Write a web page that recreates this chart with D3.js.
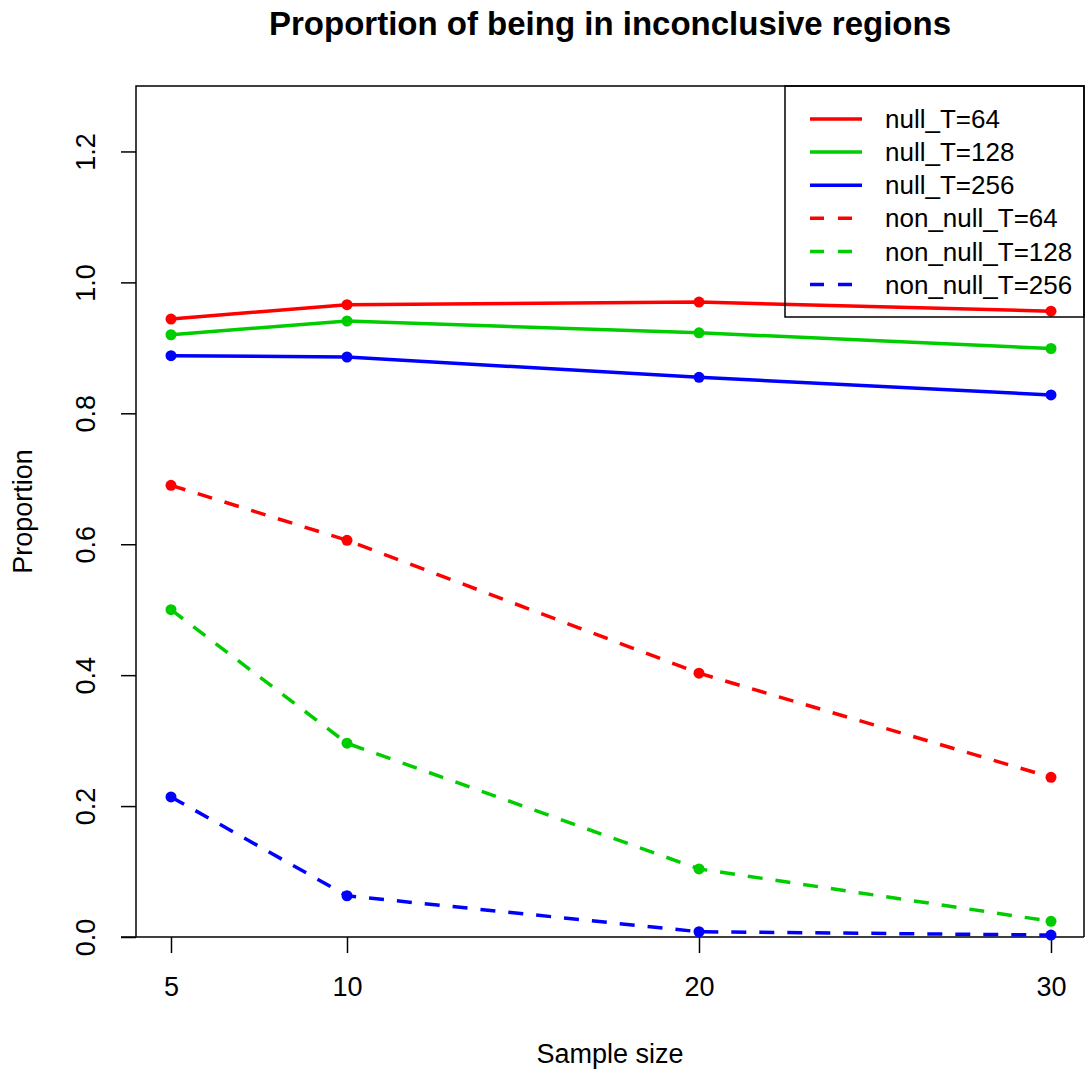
<html>
    <head>
        <meta charset="utf-8">
        <title>Proportion of being in inconclusive regions</title>
        <style>
          body { margin: 0; background: #fff; }
          svg text { font-family: "Liberation Sans", Arial, sans-serif; fill: #000; }
        </style>
    </head>
    <body>
        <div id="d3-content"></div>

        <script src="https://d3js.org/d3.v7.min.js"></script>
        <script>
            // donnees
            let sampleSizes = [5, 10, 20, 30];
            let nullT64  = [0.944, 0.966, 0.970, 0.956];
            let nullT128 = [0.920, 0.941, 0.923, 0.899];
            let nullT256 = [0.888, 0.886, 0.855, 0.828];
            let nonNullT64  = [0.690, 0.606, 0.403, 0.244];
            let nonNullT128 = [0.500, 0.296, 0.104, 0.024];
            let nonNullT256 = [0.214, 0.063, 0.008, 0.003];
            let yTicks = [0, 0.2, 0.4, 0.6, 0.8, 1.0, 1.2];
            let xTicks = [5, 10, 20, 30];

            let seriesNames = ["null_T=64", "null_T=128", "null_T=256",
                               "non_null_T=64", "non_null_T=128", "non_null_T=256"];
            let seriesValues = [nullT64, nullT128, nullT256, nonNullT64, nonNullT128, nonNullT256];
            let colors = ["#ff0000", "#00cd00", "#0000ff", "#ff0000", "#00cd00", "#0000ff"];
            let dashed = [false, false, false, true, true, true];

            let w = 1085, h = 1071;
            let pLeft = 136, pRight = 1084, pTop = 86, pBottom = 937;

            let svg = d3.select("#d3-content").append("svg")
                .attr("width", w)
                .attr("height", h);

            let xScale = d3.scaleLinear().domain([5, 30]).range([171, 1051]);
            let yScale = d3.scaleLinear().domain([0, 1.3]).range([pBottom, pTop]);

            // les axes
            let xAxis = d3.axisBottom(xScale).tickValues(xTicks).tickSize(16).tickPadding(24)
                .tickFormat(d3.format("d"));
            let yAxis = d3.axisLeft(yScale).tickValues(yTicks).tickSize(15).tickPadding(8)
                .tickFormat(d3.format(".1f"));

            let gx = svg.append("g")
                .attr("transform", "translate(0," + pBottom + ")")
                .call(xAxis);
            gx.select(".domain").remove();
            gx.selectAll("line").attr("stroke", "#000").attr("stroke-width", 1.5);
            gx.selectAll("text").style("font-size", "27px").attr("fill", "#000");

            let gy = svg.append("g")
                .attr("transform", "translate(" + pLeft + ",0)")
                .call(yAxis);
            gy.select(".domain").remove();
            gy.selectAll("line").attr("stroke", "#000").attr("stroke-width", 1.5);
            gy.selectAll("text")
                .style("font-size", "27px")
                .attr("fill", "#000")
                .attr("x", 0).attr("y", 0).attr("dy", 0)
                .attr("text-anchor", "middle")
                .attr("dominant-baseline", "middle")
                .attr("transform", "translate(-48,0) rotate(-90)");

            // le cadre
            svg.append("line")
                .attr("x1", 121).attr("x2", pRight).attr("y1", pBottom).attr("y2", pBottom)
                .attr("stroke", "#000").attr("stroke-width", 1.5);
            svg.append("path")
                .attr("d", "M" + pLeft + "," + pBottom + "V" + pTop + "H" + pRight + "V" + pBottom)
                .attr("fill", "none").attr("stroke", "#000").attr("stroke-width", 1.5);

            // les courbes
            let line = d3.line()
                .x(function(d, i){ return xScale(sampleSizes[i]); })
                .y(function(d){ return yScale(d); });

            seriesValues.forEach(function(vals, k) {
              svg.append("path")
                  .datum(vals)
                  .attr("d", line)
                  .attr("fill", "none")
                  .attr("stroke", colors[k])
                  .attr("stroke-width", 3.5)
                  .attr("stroke-dasharray", dashed[k] ? "15,13" : null);

              svg.selectAll(".pt" + k)
                  .data(vals).enter()
                  .append("circle")
                  .attr("class", "pt" + k)
                  .attr("cx", function(d, i){ return xScale(sampleSizes[i]); })
                  .attr("cy", function(d){ return yScale(d); })
                  .attr("r", 5.5)
                  .attr("fill", colors[k]);
            });

            // legende
            let legX = 785, legY = pTop, legW = pRight - 785, legH = 317 - pTop;
            svg.append("rect")
                .attr("x", legX).attr("y", legY).attr("width", legW).attr("height", legH)
                .attr("fill", "none").attr("stroke", "#000").attr("stroke-width", 1.5);

            let leg = svg.selectAll(".leg")
                .data(seriesNames).enter()
                .append("g")
                .attr("class", "leg")
                .attr("transform", function(d, i){ return "translate(0," + (119 + i * 33.1) + ")"; });
            leg.append("line")
                .attr("x1", 810).attr("x2", 862).attr("y1", 0).attr("y2", 0)
                .attr("stroke", function(d, i){ return colors[i]; })
                .attr("stroke-width", 3.5)
                .attr("stroke-dasharray", function(d, i){ return dashed[i] ? "14,14" : null; });
            leg.append("text")
                .attr("x", 885).attr("y", 0).attr("dy", "0.35em")
                .style("font-size", "26px")
                .text(function(d){ return d; });

            // titres
            svg.append("text")
                .attr("x", (pLeft + pRight) / 2).attr("y", 35)
                .attr("text-anchor", "middle")
                .style("font-size", "33px").style("font-weight", "bold")
                .text("Proportion of being in inconclusive regions");
            svg.append("text")
                .attr("x", (pLeft + pRight) / 2).attr("y", 1063)
                .attr("text-anchor", "middle")
                .style("font-size", "27px")
                .text("Sample size");
            svg.append("text")
                .attr("transform", "translate(32," + ((pTop + pBottom) / 2) + ") rotate(-90)")
                .attr("text-anchor", "middle")
                .style("font-size", "27px")
                .text("Proportion");
        </script>
    </body>
</html>
